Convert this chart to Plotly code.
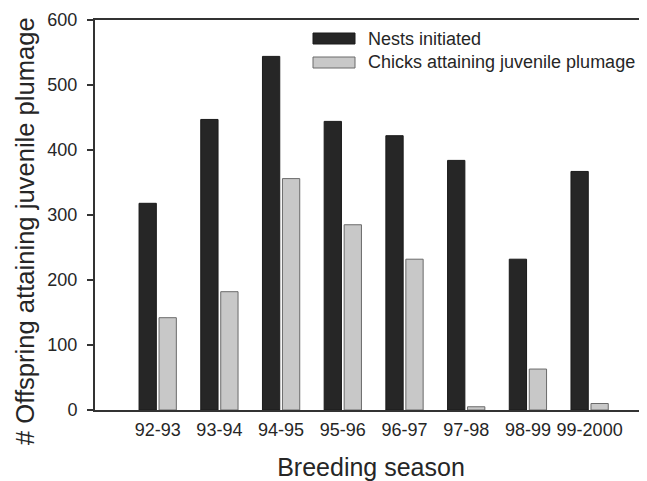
import plotly.graph_objects as go

seasons = ["92-93", "93-94", "94-95", "95-96", "96-97", "97-98", "98-99", "99-2000"]
nests_initiated = [318, 447, 544, 444, 422, 384, 232, 367]
chicks_juvenile = [142, 182, 356, 285, 232, 5, 63, 10]
series_names = ["Nests initiated", "Chicks attaining juvenile plumage"]
y_ticks = [0, 100, 200, 300, 400, 500, 600]

DARK = "#262626"
LIGHT = "#c8c8c8"
TEXT = "#262626"
FONT = "Liberation Sans, Arial, sans-serif"

OFF = 8                      # browser body margin
W, H = 647 - OFF, 481 - OFF
# plot area in page pixels: left 95, top 20, bottom 410, right 647
ML, MT = 95 - OFF, 20 - OFF
MB = 481 - 410
MR = 0
PW, PH = W - ML - MR, H - MT - MB

def px_x(px):
    return (px - OFF - ML) / PW

def px_y(py):
    return (H - MB - (py - OFF)) / PH

fig = go.Figure()
fig.add_trace(go.Bar(x=seasons, y=nests_initiated, name=series_names[0],
                     marker=dict(color=DARK, line=dict(color="#1a1a1a", width=1))))
fig.add_trace(go.Bar(x=seasons, y=chicks_juvenile, name=series_names[1],
                     marker=dict(color=LIGHT, line=dict(color="#6a6a6a", width=1))))

# manual legend (wide swatches as in reference)
legend_rows = [(33, 44, DARK, "#1a1a1a", series_names[0]),
               (57, 68, LIGHT, "#6a6a6a", series_names[1])]
for top, bot, fill, edge, label in legend_rows:
    fig.add_shape(type="rect", xref="paper", yref="paper",
                  x0=px_x(313), x1=px_x(355), y0=px_y(bot), y1=px_y(top),
                  fillcolor=fill, line=dict(color=edge, width=1))
    fig.add_annotation(xref="paper", yref="paper", x=px_x(366), y=px_y((top + bot) / 2),
                       xanchor="left", yanchor="middle", text=label, showarrow=False,
                       font=dict(family=FONT, size=18, color=TEXT))

# y axis title as annotation (offset from plot centre in reference)
fig.add_annotation(xref="paper", yref="paper", x=px_x(25), y=px_y(231),
                   xanchor="center", yanchor="middle", textangle=-90,
                   text="# Offspring attaining juvenile plumage", showarrow=False,
                   font=dict(family=FONT, size=25.6, color=TEXT))

fig.update_layout(
    width=W, height=H,
    margin=dict(l=ML, r=MR, t=MT, b=MB, pad=0, autoexpand=False),
    paper_bgcolor="white", plot_bgcolor="white",
    barmode="group", bargap=0.352, bargroupgap=0.135,
    showlegend=False,
    font=dict(family=FONT, color=TEXT),
)
fig.update_xaxes(
    type="category", range=[-1.016, 7.93],
    showline=True, linecolor="#333333", linewidth=2, mirror=True,
    ticks="", showgrid=False, zeroline=False,
    tickfont=dict(family=FONT, size=18, color=TEXT),
    ticklabelstandoff=2,
    title=dict(text="Breeding season", font=dict(family=FONT, size=25, color=TEXT), standoff=22),
    automargin=False,
)
fig.update_yaxes(
    range=[0, 600], tickvals=y_ticks,
    showline=True, linecolor="#333333", linewidth=2,
    ticks="outside", ticklen=6, tickwidth=1.5, tickcolor="#333333",
    showgrid=False, zeroline=False,
    tickfont=dict(family=FONT, size=18, color=TEXT),
    ticklabelstandoff=6,
    automargin=False,
)

fig.write_html("out.html")
